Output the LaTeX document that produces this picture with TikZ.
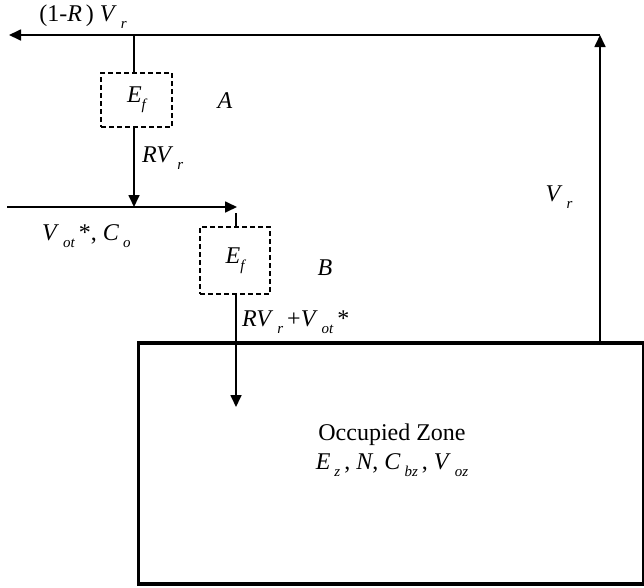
\documentclass[tikz,border=0pt]{standalone}
\usepackage{fontspec}
\setmainfont{Liberation Serif}
\usetikzlibrary{arrows.meta}
\newcommand\sbx[1]{\raisebox{-0.28em}{\fontsize{15}{17}\selectfont\itshape #1}}
\begin{document}
\begin{tikzpicture}[x=1pt,y=-1pt,
  flow/.style={line width=1.7pt},
  arr/.style={flow,-{Triangle[length=12pt,width=11pt]}},
  filt/.style={draw,dashed,line width=1.2pt,dash pattern=on 5pt off 3pt,minimum width=71pt,minimum height=54pt,inner sep=0pt},
  lbl/.style={font=\fontsize{24}{28}\selectfont,inner sep=0pt},
  zonebox/.style={draw,line width=3.5pt,minimum width=505pt,minimum height=241pt,inner sep=0pt,align=center}]
\useasboundingbox (0,0) rectangle (644,587);
% nodes
\node[filt] (A) at (136.5,100) {};
\node[lbl] (Aef) at (136.5,100) {\textit{E}\sbx{f}};
\node[filt,minimum width=70pt,minimum height=67pt] (B) at (235,260.5) {};
\node[lbl] (Bef) at (235,260.5) {\textit{E}\sbx{f}};
\node[zonebox] (Z) at (391,463.5) {};
\node[lbl,align=center] (Zt) at (392,450) {Occupied Zone\\[1pt]\textit{E}\,\sbx{z}\,, \textit{N}, \textit{C}\,\sbx{bz}\,, \textit{V}\,\sbx{oz}};
% coordinates
\coordinate (tl) at (9,35);
\coordinate (tr) at (600,35);
\coordinate (zr) at (600,343);
\coordinate (ja) at (134,35);
\coordinate (jb) at (134,207);
\coordinate (ml) at (7,207);
\coordinate (mr) at (237,207);
\coordinate (bt) at (236,213);
\coordinate (bz) at (236,407);
% connectors
\draw[arr] (zr) -- (tr);
\draw[arr] (tr) -- (tl);
\draw[flow] (ja) -- (ja |- A.north);
\draw[arr] (jb |- A.south) -- (jb);
\draw[arr] (ml) -- (mr);
\draw[flow] (bt) -- (bt |- B.north);
\draw[arr] (bz |- B.south) -- (bz);
% labels
\node[lbl] (l1) at (83,17) {(1-\textit{R}\,) \textit{V}\,\sbx{r}};
\node[lbl] (lA) at (225,101) {\textit{A}};
\node[lbl,anchor=west] (l2) at (142,158) {\textit{RV}\,\sbx{r}};
\node[lbl,anchor=west] (l3) at (42,236) {\textit{V}\,\sbx{ot}\,*, \textit{C}\,\sbx{o}};
\node[lbl] (lB) at (325,268) {\textit{B}};
\node[lbl,anchor=west] (l4) at (242,322) {\textit{RV}\,\sbx{r}\,+\textit{V}\,\sbx{ot}\,*};
\node[lbl] (l5) at (559,197) {\textit{V}\,\sbx{r}};
\end{tikzpicture}
\end{document}
